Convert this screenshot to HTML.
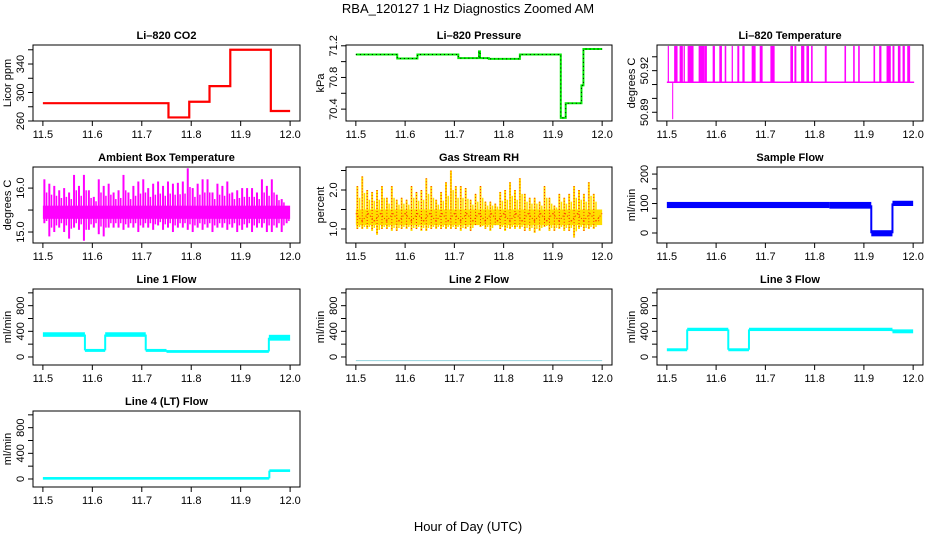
<!DOCTYPE html>
<html><head><meta charset="utf-8"><style>
html,body{margin:0;padding:0;background:#fff;}
svg{display:block;font-family:"Liberation Sans",sans-serif;}
</style></head><body>
<svg id="chart" width="936" height="540" viewBox="0 0 936 540">
<rect width="936" height="540" fill="#fff"/>
<text x="468" y="13" text-anchor="middle" font-size="13">RBA_120127  1 Hz Diagnostics Zoomed AM</text>
<text x="468" y="531" text-anchor="middle" font-size="13">Hour of Day (UTC)</text>
</svg>
<script>
// ---- data ----
const xTicks = [11.5, 11.6, 11.7, 11.8, 11.9, 12.0];
const xTickLabels = ["11.5", "11.6", "11.7", "11.8", "11.9", "12.0"];

const co2Breaks = [11.5, 11.754, 11.796, 11.837, 11.879, 11.961, 12.0];
const co2Values = [285, 265, 287, 309, 360, 274];

const presBreaks = [11.5, 11.584, 11.625, 11.708, 11.75, 11.752, 11.77, 11.833, 11.916, 11.926, 11.958, 11.962, 12.0];
const presValues = [71.09, 71.04, 71.09, 71.045, 71.13, 71.045, 71.035, 71.09, 70.29, 70.475, 70.70, 71.16];

const tempBase = 50.9116;
const tempSpikeStart = [11.503,11.516,11.5271,11.5352,11.5434,11.5657,11.5772,11.5942,11.6077,11.6186,11.6328,11.6443,11.6545,11.6734,11.6897,11.7114,11.752,11.7602,11.7737,11.7846,11.794,11.8218,11.8618,11.8794,11.8896,11.9207,11.9323,11.9472,11.9593,11.9702,11.9797,11.9892];
const tempSpikeEnd =   [11.5035,11.5217,11.5325,11.5366,11.5542,11.5759,11.5813,11.5976,11.6118,11.6206,11.6341,11.647,11.6579,11.6802,11.6944,11.7188,11.7561,11.7629,11.7791,11.7886,11.796,11.8245,11.8638,11.8814,11.8916,11.9228,11.9356,11.9546,11.962,11.9743,11.9831,11.9939];
const tempSpikeTop = 50.9378;
const tempLowSpike = [11.5108, 11.5129, 50.885];
const tempEnd = 12.002;

const ambHi = [16.2,16.1,16.05,15.95,16.0,15.9,16.3,16.05,16.3,15.95,15.8,16.2,16.05,16.1,15.9,15.95,16.3,15.9,16.05,16.15,16.2,16.0,16.1,16.15,16.05,16.15,16.1,16.12,16.15,16.45,16.0,16.1,16.2,16.2,15.9,16.1,16.05,16.15,15.9,15.95,16.0,16.0,16.0,15.9,16.2,16.05,16.2,15.85,15.75,15.55];
const ambLo = [15.2,14.9,15.0,15.1,15.0,14.85,15.1,15.05,14.8,15.05,15.1,14.95,14.9,15.1,15.1,15.1,15.05,15.1,15.1,15.0,15.1,15.1,15.05,15.15,15.05,15.1,15.0,15.1,15.1,15.05,15.0,15.1,15.05,15.1,15.0,15.1,15.1,15.05,15.1,15.0,15.05,15.1,15.0,15.1,15.1,15.0,15.0,15.1,15.0,15.2];
const ambCore = [15.3, 15.6];

const rhHi = [2.1,2.35,2.0,1.95,2.0,2.1,1.8,2.1,1.75,1.8,1.75,2.1,1.95,2.0,2.3,2.1,1.75,1.95,2.2,2.5,2.1,2.1,2.05,1.75,1.9,2.1,1.7,1.7,1.65,1.95,2.0,2.2,2.0,2.3,1.9,1.8,1.8,1.7,2.1,1.8,1.6,1.9,1.8,1.9,2.1,2.0,1.9,2.2,1.9,1.3];
const rhLo = [1.0,1.0,1.0,0.95,0.85,1.0,1.0,0.95,0.95,1.0,1.0,0.95,1.0,0.95,0.95,1.0,1.0,1.0,1.0,1.0,1.0,0.95,1.0,0.95,1.1,1.05,1.0,0.95,1.1,1.0,0.95,1.0,1.0,1.0,0.95,0.95,0.9,0.95,1.05,0.95,0.95,1.0,0.95,0.95,0.78,1.0,0.95,1.0,1.0,1.15];
const rhCore = [1.1, 1.5];

const sfBreaks = [11.5, 11.83, 11.915, 11.958, 12.0];
const sfLo = [88, 86, -8, 95];
const sfHi = [102, 102, 6, 106];

const l1Breaks = [11.5, 11.585, 11.626, 11.708, 11.75, 11.957, 12.0];
const l1Lo = [330, 95, 330, 95, 80, 270];
const l1Hi = [370, 110, 370, 110, 92, 330];

const l2Breaks = [11.5, 12.0];
const l2Values = [-56];

const l3Breaks = [11.5, 11.5413, 11.6247, 11.6667, 11.958, 12.0];
const l3Lo = [105, 420, 105, 420, 385];
const l3Hi = [120, 440, 120, 440, 415];

const l4Breaks = [11.5, 11.958, 12.0];
const l4Lo = [5, 125];
const l4Hi = [15, 135];

// ---- layout ----
const NS = "http://www.w3.org/2000/svg";
const svg = document.getElementById('chart');
const colL = [33, 346, 657], colR = [300, 612, 923];
const rowT = [45, 167, 289, 411], BH = 76;
function el(tag, attrs, parent) {
  const e = document.createElementNS(NS, tag);
  for (const k in attrs) e.setAttribute(k, attrs[k]);
  (parent || svg).appendChild(e);
  return e;
}
function panel(name, title, col, row, yMin, yMax, yTicks, yLabels, yLabelStr, yTitle) {
  const g = el('g', {});
  
  
  const L = colL[col], R = colR[col], T = rowT[row], B = T + BH;
  const xs = t => L + (t - 11.48) / 0.54 * (R - L);
  const ys = v => B - (v - yMin) / (yMax - yMin) * BH;
  const tt = el('text', {x: (L + R) / 2, y: T - 6, 'text-anchor': 'middle', 'font-size': 11, 'font-weight': 'bold'}, g);
  tt.textContent = title;
  
  
  const plot = el('g', {}, g);
  
  
  const box = el('rect', {x: L, y: T, width: R - L, height: BH, fill: 'none', stroke: '#000', 'stroke-width': 1}, g);
  
  
  const xa = el('g', {}, g);
  
  
  xTicks.forEach((t, i) => {
    el('line', {x1: xs(t), x2: xs(t), y1: B, y2: B + 5, stroke: '#000'}, xa);
    const tx = el('text', {x: xs(t), y: B + 17, 'text-anchor': 'middle', 'font-size': 11}, xa);
    tx.textContent = xTickLabels[i];
  });
  const ya = el('g', {}, g);
  
  
  yTicks.forEach(v => el('line', {x1: L - 5, x2: L, y1: ys(v), y2: ys(v), stroke: '#000'}, ya));
  yLabels.forEach((v, i) => {
    const tx = el('text', {x: L - 9, y: ys(v), 'text-anchor': 'middle', 'font-size': 11, transform: `rotate(-90 ${L - 9} ${ys(v)})`}, ya);
    tx.textContent = yLabelStr[i];
  });
  const yt = el('text', {x: L - 22, y: (T + B) / 2, 'text-anchor': 'middle', 'font-size': 11, transform: `rotate(-90 ${L - 22} ${(T + B) / 2})`}, g);
  yt.textContent = yTitle;
  
  
  return {plot, xs, ys};
}
function stepLine(p, breaks, vals, color, w, dash) {
  let d = '';
  vals.forEach((v, i) => {
    d += (i === 0 ? 'M' : 'L') + p.xs(breaks[i]) + ',' + p.ys(v) + 'L' + p.xs(breaks[i + 1]) + ',' + p.ys(v);
  });
  const a = {d, fill: 'none', stroke: color, 'stroke-width': w};
  if (dash) a['stroke-dasharray'] = dash;
  return el('path', a, p.plot);
}
function stepBand(p, breaks, lo, hi, color) {
  lo.forEach((v, i) => {
    const x0 = p.xs(breaks[i]), x1 = p.xs(breaks[i + 1]);
    const y0 = p.ys(hi[i]), y1 = p.ys(v);
    const r = el('rect', {x: x0, y: y0 - 1, width: Math.max(1, x1 - x0), height: Math.max(2, y1 - y0 + 2), fill: color}, p.plot);
    
    if (i > 0) {
      const yp = (p.ys(lo[i - 1]) + p.ys(hi[i - 1])) / 2, yc = (y0 + y1) / 2;
      el('line', {x1: x0, x2: x0, y1: yp, y2: yc, stroke: color, 'stroke-width': 2}, p.plot);
    }
  });
}
function noisy(p, hi, lo, core, color, overlay) {
  const n = hi.length;
  el('rect', {x: p.xs(11.5), y: p.ys(core[1]), width: p.xs(12.0) - p.xs(11.5), height: p.ys(core[0]) - p.ys(core[1]), fill: color}, p.plot);
  for (let i = 0; i < n; i++) {
    const t = 11.5 + (i + 0.3) / n * 0.5, t2 = 11.5 + (i + 0.75) / n * 0.5;
    const b = el('line', {x1: p.xs(t), x2: p.xs(t), y1: p.ys(hi[i]), y2: p.ys(lo[i]), stroke: color, 'stroke-width': 2}, p.plot);
    
    el('line', {x1: p.xs(t2), x2: p.xs(t2), y1: p.ys((hi[i] + core[1]) / 2), y2: p.ys((lo[i] + core[0]) / 2), stroke: color, 'stroke-width': 1.5}, p.plot);
    if (overlay) {
      el('line', {x1: p.xs(t), x2: p.xs(t), y1: p.ys(hi[i]), y2: p.ys(lo[i]), stroke: overlay, 'stroke-width': 1, 'stroke-dasharray': '1 2'}, p.plot);
    }
  }
  if (overlay) {
    for (let k = 0; k < 40; k++) {
      const t = 11.5 + k / 40 * 0.5;
      el('line', {x1: p.xs(t), x2: p.xs(t + 0.0125), y1: p.ys(core[0] + (k % 2 ? 0.1 : 0.3)), y2: p.ys(core[0] + (k % 2 ? 0.3 : 0.1)), stroke: overlay, 'stroke-width': 1, 'stroke-dasharray': '1 2'}, p.plot);
    }
  }
}
const flowTicks = [0, 200, 400, 600, 800, 1000], flowLabels = [0, 400, 800], flowLabelStr = ["0", "400", "800"];

let p = panel('co2', 'Li\u2013820 CO2', 0, 0, 260, 366.7, [260, 280, 300, 320, 340, 360], [260, 300, 340], ["260", "300", "340"], 'Licor ppm');
stepLine(p, co2Breaks, co2Values, '#ff0000', 2.2);
p = panel('pressure', 'Li\u2013820 Pressure', 1, 0, 70.25, 71.21, [70.4, 70.6, 70.8, 71.0, 71.2], [70.4, 70.8, 71.2], ["70.4", "70.8", "71.2"], 'kPa');
stepLine(p, presBreaks, presValues, '#00ee00', 2);
stepLine(p, presBreaks, presValues, '#000', 1, '1 3');
p = panel('li820-temp', 'Li\u2013820 Temperature', 2, 0, 50.8837, 50.9385, [50.89, 50.90, 50.91, 50.92, 50.93], [50.89, 50.92], ["50.89", "50.92"], 'degrees C');
el('line', {x1: p.xs(11.5), x2: p.xs(tempEnd), y1: p.ys(tempBase), y2: p.ys(tempBase), stroke: '#ff00ff', 'stroke-width': 1.5}, p.plot);
tempSpikeStart.forEach((s, i) => {
  const r = el('rect', {x: p.xs(s) - 0.6, y: p.ys(tempSpikeTop), width: Math.max(1.2, p.xs(tempSpikeEnd[i]) - p.xs(s) + 0.6), height: p.ys(tempBase) - p.ys(tempSpikeTop), fill: '#ff00ff'}, p.plot);
  
});
el('rect', {x: p.xs(tempLowSpike[0]), y: p.ys(tempBase), width: p.xs(tempLowSpike[1]) - p.xs(tempLowSpike[0]), height: p.ys(tempLowSpike[2]) - p.ys(tempBase), fill: '#ff00ff'}, p.plot);
p = panel('ambient-temp', 'Ambient Box Temperature', 0, 1, 14.75, 16.48, [15.0, 15.5, 16.0], [15.0, 16.0], ["15.0", "16.0"], 'degrees C');
noisy(p, ambHi, ambLo, ambCore, '#ff00ff');
p = panel('gas-rh', 'Gas Stream RH', 1, 1, 0.64, 2.59, [1.0, 1.5, 2.0, 2.5], [1.0, 2.0], ["1.0", "2.0"], 'percent');
noisy(p, rhHi, rhLo, rhCore, '#ffdd00', '#ff2200');
p = panel('sample-flow', 'Sample Flow', 2, 1, -34, 224, [0, 50, 100, 150, 200], [0, 100, 200], ["0", "100", "200"], 'ml/min');
stepBand(p, sfBreaks, sfLo, sfHi, '#0000ff');
p = panel('line1-flow', 'Line 1 Flow', 0, 2, -125, 1060, flowTicks, flowLabels, flowLabelStr, 'ml/min');
stepBand(p, l1Breaks, l1Lo, l1Hi, '#00ffff');
p = panel('line2-flow', 'Line 2 Flow', 1, 2, -125, 1060, flowTicks, flowLabels, flowLabelStr, 'ml/min');
stepLine(p, l2Breaks, l2Values, '#a0d8e0', 1.2);
p = panel('line3-flow', 'Line 3 Flow', 2, 2, -125, 1060, flowTicks, flowLabels, flowLabelStr, 'ml/min');
stepBand(p, l3Breaks, l3Lo, l3Hi, '#00ffff');
p = panel('line4-flow', 'Line 4 (LT) Flow', 0, 3, -125, 1060, flowTicks, flowLabels, flowLabelStr, 'ml/min');
stepBand(p, l4Breaks, l4Lo, l4Hi, '#00ffff');
</script>
</body></html>
